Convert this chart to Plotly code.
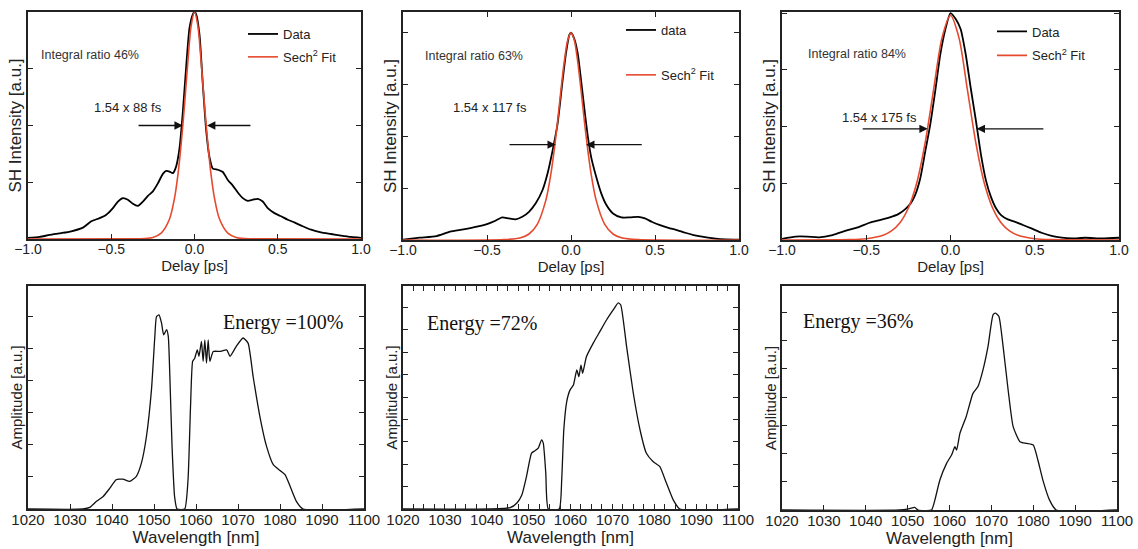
import plotly.graph_objects as go
from plotly.subplots import make_subplots

# ---------------- Autocorrelation traces (top row) ----------------
ac1_x = [-1.0, -0.93, -0.87, -0.8, -0.74, -0.67, -0.62, -0.57, -0.53, -0.49, -0.46, -0.43, -0.40, -0.37, -0.34,
         -0.31, -0.28, -0.25, -0.22, -0.19, -0.17, -0.15, -0.13, -0.11, -0.09, -0.07, -0.05, -0.03, -0.01, 0.0,
         0.01, 0.03, 0.05, 0.07, 0.09, 0.11, 0.14, 0.17, 0.2, 0.23, 0.26, 0.29, 0.32, 0.35, 0.38, 0.41, 0.44,
         0.48, 0.52, 0.56, 0.6, 0.65, 0.7, 0.76, 0.82, 0.88, 0.94, 1.0]
ac1_y = [0.005, 0.009, 0.018, 0.026, 0.034, 0.05, 0.078, 0.092, 0.107, 0.136, 0.165, 0.18, 0.173, 0.155, 0.146,
         0.165, 0.19, 0.21, 0.245, 0.287, 0.30, 0.297, 0.29, 0.32, 0.40, 0.56, 0.76, 0.93, 0.99, 1.0,
         0.99, 0.9, 0.68, 0.48, 0.36, 0.31, 0.305, 0.295, 0.26, 0.235, 0.205, 0.18, 0.168, 0.173, 0.177, 0.165, 0.136,
         0.114, 0.10, 0.085, 0.073, 0.056, 0.041, 0.029, 0.022, 0.015, 0.009, 0.005]
fit1_x = [-1.0, -0.4, -0.3, -0.25, -0.2, -0.15, -0.12, -0.1, -0.08, -0.06, -0.04, -0.02, 0.0,
          0.02, 0.04, 0.06, 0.08, 0.1, 0.12, 0.15, 0.2, 0.25, 0.3, 0.4, 1.0]
fit1_y = [0.0, 0.0005, 0.002, 0.007, 0.026, 0.088, 0.18, 0.28, 0.42, 0.59, 0.78, 0.94, 1.0,
          0.94, 0.78, 0.59, 0.42, 0.28, 0.18, 0.088, 0.026, 0.007, 0.002, 0.0005, 0.0]

ac2_x = [-1.0, -0.9, -0.8, -0.72, -0.64, -0.56, -0.5, -0.45, -0.41, -0.37, -0.33, -0.29, -0.25, -0.21, -0.17,
         -0.14, -0.11, -0.08, -0.05, -0.03, -0.01, 0.0, 0.02, 0.04, 0.06, 0.08, 0.1, 0.12, 0.15, 0.18, 0.21,
         0.25, 0.3, 0.35, 0.4, 0.44, 0.48, 0.53, 0.58, 0.63, 0.68, 0.73, 0.78, 0.85, 0.92, 1.0]
ac2_y = [0.002, 0.011, 0.019, 0.04, 0.051, 0.064, 0.077, 0.093, 0.109, 0.104, 0.10, 0.112, 0.136, 0.177, 0.24,
         0.32, 0.43, 0.56, 0.77, 0.90, 0.99, 1.0, 0.97, 0.90, 0.77, 0.63, 0.50, 0.40, 0.305, 0.225, 0.17,
         0.128, 0.109, 0.109, 0.112, 0.104, 0.088, 0.072, 0.059, 0.048, 0.035, 0.024, 0.016, 0.008, 0.003, 0.002]
fit2_x = [-1.0, -0.4, -0.3, -0.25, -0.2, -0.15, -0.12, -0.1, -0.08, -0.06, -0.04, -0.02, 0.0,
          0.02, 0.04, 0.06, 0.08, 0.1, 0.12, 0.15, 0.2, 0.25, 0.3, 0.4, 1.0]
fit2_y = [0.0, 0.0016, 0.011, 0.029, 0.077, 0.191, 0.318, 0.434, 0.571, 0.722, 0.861, 0.963, 1.0,
          0.963, 0.861, 0.722, 0.571, 0.434, 0.318, 0.191, 0.077, 0.029, 0.011, 0.0016, 0.0]

ac3_x = [-1.0, -0.92, -0.85, -0.78, -0.7, -0.62, -0.55, -0.48, -0.42, -0.36, -0.31, -0.27, -0.24, -0.21, -0.18,
         -0.15, -0.12, -0.09, -0.06, -0.03, 0.0, 0.03, 0.06, 0.09, 0.12, 0.15, 0.18, 0.21, 0.24, 0.27, 0.3,
         0.34, 0.38, 0.43, 0.48, 0.54, 0.6, 0.66, 0.72, 0.8, 0.9, 1.0]
ac3_y = [0.005, 0.015, 0.015, 0.012, 0.022, 0.041, 0.056, 0.076, 0.088, 0.10, 0.114, 0.135, 0.158, 0.198, 0.27,
         0.39, 0.51, 0.66, 0.82, 0.93, 1.0, 0.975, 0.93, 0.82, 0.67, 0.53, 0.38, 0.264, 0.19, 0.14, 0.11,
         0.091, 0.081, 0.066, 0.051, 0.032, 0.018, 0.01, 0.007, 0.01, 0.007, 0.01]
fit3_x = [-1.0, -0.6, -0.5, -0.4, -0.35, -0.3, -0.25, -0.2, -0.15, -0.1, -0.05, 0.0,
          0.05, 0.1, 0.15, 0.2, 0.25, 0.3, 0.35, 0.4, 0.5, 0.6, 1.0]
fit3_y = [0.0, 0.0016, 0.0058, 0.021, 0.040, 0.076, 0.141, 0.252, 0.430, 0.664, 0.892, 0.99,
          0.892, 0.664, 0.430, 0.252, 0.141, 0.076, 0.040, 0.021, 0.0058, 0.0016, 0.0]

ac_labels = ["Integral ratio 46%", "Integral ratio 63%", "Integral ratio 84%"]
fwhm_labels = ["1.54 x 88 fs", "1.54 x 117 fs", "1.54 x 175 fs"]
data_names = ["Data", "data", "Data"]

# ---------------- Spectra (bottom row) ----------------
sp1_x = [1020, 1033.1, 1034.7, 1036.3, 1037.9, 1039.5, 1041.0, 1042.6, 1044.2, 1045.8, 1047.0, 1048.2, 1049.4,
         1050.2, 1050.6, 1051.2, 1051.8, 1052.3, 1053.0, 1053.4, 1053.8, 1054.3, 1054.9, 1055.5, 1057.3,
         1058.1, 1058.7, 1059.2, 1059.7, 1060.3, 1060.7, 1061.3, 1061.7, 1062.1, 1062.5, 1062.9, 1063.3,
         1064.1, 1065.7, 1067.3, 1068.1, 1069.6, 1071.2, 1072.4, 1073.6, 1075.2, 1076.8, 1078.4, 1080.0,
         1081.2, 1082.4, 1083.9, 1085.5, 1100]
sp1_y = [0, 0, 0.05, 0.24, 0.39, 0.65, 0.91, 0.93, 0.86, 1.02, 1.43, 2.26, 3.72,
         5.38, 6.0, 6.05, 5.79, 5.43, 5.59, 5.38, 4.03, 1.95, 0.39, 0, 0,
         0.91, 3.2, 4.6, 4.7, 4.96, 4.76, 5.22, 4.6, 5.27, 4.55, 5.27, 4.6,
         4.91, 4.91, 4.96, 4.76, 5.07, 5.33, 5.17, 4.13, 2.89, 1.95, 1.38, 1.2,
         1.07, 0.71, 0.24, 0, 0]

sp2_x = [1020, 1040.8, 1045.6, 1047.2, 1048.4, 1049.5, 1050.7, 1051.5, 1052.3, 1053.1, 1053.5, 1054.1, 1054.7,
         1057.3, 1057.9, 1058.4, 1059.1, 1059.9, 1060.7, 1061.5, 1062.0, 1062.5, 1062.9, 1063.8, 1065.4,
         1067.0, 1068.6, 1070.2, 1071.4, 1072.0, 1073.4, 1075.0, 1076.6, 1078.1, 1079.7, 1081.3, 1082.9,
         1084.5, 1086.1, 1100]
sp2_y = [0, 0, 0.06, 0.27, 0.64, 1.46, 2.5, 2.6, 2.72, 3.09, 2.94, 1.6, 0,
         0, 1.31, 3.54, 4.8, 5.32, 5.54, 6.21, 5.91, 6.43, 6.06, 6.8, 7.4,
         7.92, 8.44, 8.89, 9.21, 9.11, 7.25, 5.17, 3.54, 2.5, 2.12, 1.9, 1.16,
         0.42, 0, 0]

sp3_x = [1020, 1048.1, 1050.5, 1051.7, 1052.5, 1055.7, 1056.5, 1057.7, 1059.3, 1060.5, 1061.3, 1061.7, 1062.5,
         1064.0, 1065.6, 1066.8, 1068.0, 1069.2, 1070.4, 1071.0, 1071.8, 1072.8, 1074.0, 1075.2, 1076.8,
         1078.4, 1080.0, 1081.1, 1082.3, 1083.9, 1085.5, 1100]
sp3_y = [0, 0, 0.05, 0.09, 0, 0, 0.35, 1.06, 1.65, 1.95, 2.24, 2.12, 2.72,
         3.31, 4.13, 4.37, 4.96, 5.79, 6.91, 6.97, 6.85, 5.79, 4.25, 2.95, 2.42,
         2.36, 2.3, 1.77, 1.06, 0.35, 0, 0]

energy_labels = ["Energy =100%", "Energy =72%", "Energy =36%"]

W, H = 1138, 549
FONT = "Liberation Sans, Arial, sans-serif"
RED = "#e64a2e"

fig = make_subplots(rows=2, cols=3)

# domains in pixels (left, right, top, bottom)
boxes = [(28, 361, 12, 239), (403, 739, 12, 240), (782, 1119, 12, 240),
         (28, 364, 286, 509), (403, 738, 286, 509), (782, 1117, 286, 510)]

ac_sets = [(ac1_x, ac1_y, fit1_x, fit1_y), (ac2_x, ac2_y, fit2_x, fit2_y), (ac3_x, ac3_y, fit3_x, fit3_y)]
legend_ids = ["legend", "legend2", "legend3"]
for i, (dx, dy, fx, fy) in enumerate(ac_sets):
    fig.add_trace(go.Scatter(x=dx, y=dy, mode="lines", name=data_names[i], legend=legend_ids[i],
                             legendgroup=f"d{i}", line=dict(color="black", width=1.8, shape="spline", smoothing=0.6)),
                  row=1, col=i + 1)
    fig.add_trace(go.Scatter(x=fx, y=fy, mode="lines", name="Sech<sup>2</sup> Fit", legend=legend_ids[i],
                             legendgroup=f"f{i}", line=dict(color=RED, width=1.6, shape="spline", smoothing=0.8)),
                  row=1, col=i + 1)

for i, (sx, sy) in enumerate([(sp1_x, sp1_y), (sp2_x, sp2_y), (sp3_x, sp3_y)]):
    fig.add_trace(go.Scatter(x=sx, y=sy, mode="lines", showlegend=False,
                             line=dict(color="#111", width=1.3, shape="spline", smoothing=0.5)),
                  row=2, col=i + 1)

# axes
top_yr = [[0, 1.0], [0, 1.1], [0, 1.005]]
bot_yr = [[0, 6.95], [0, 9.96], [0, 7.93]]
for k, (l, r, t, b) in enumerate(boxes):
    idx = "" if k == 0 else str(k + 1)
    xd = [l / W, r / W]
    yd = [1 - b / H, 1 - t / H]
    common = dict(showline=True, linecolor="#222", linewidth=1.5, mirror=True, ticks="inside",
                  ticklen=5, tickcolor="#222", tickwidth=1, showgrid=False, zeroline=False, automargin=False)
    if k < 3:
        fig.layout["xaxis" + idx].update(domain=xd, range=[-1, 1], dtick=0.5, tick0=0, tickformat=".1f",
                                         tickfont=dict(family=FONT, size=14, color="#222"), ticklabelstandoff=-4,
                                         title=dict(text="Delay [ps]", font=dict(family=FONT, size=15, color="#222"),
                                                    standoff=0),
                                         **common)
        if k == 1:
            fig.layout["xaxis" + idx].update(mirror="ticks")
        fig.layout["yaxis" + idx].update(domain=yd, range=top_yr[k], dtick=0.25, tick0=0, showticklabels=False,
                                         title=dict(text="SH Intensity [a.u.]",
                                                    font=dict(family=FONT, size=17, color="#222"), standoff=0),
                                         **common)
        fig.layout["yaxis" + idx].update(mirror="ticks")
    else:
        fig.layout["xaxis" + idx].update(domain=xd, range=[1020, 1100], dtick=10, tick0=1020,
                                         tickfont=dict(family=FONT, size=15, color="#222"), ticklabelstandoff=-4,
                                         title=dict(text="Wavelength [nm]",
                                                    font=dict(family=FONT, size=17, color="#222"), standoff=2),
                                         **common)
        if k == 4:
            fig.layout["xaxis" + idx].update(mirror="ticks",
                                             minor=dict(dtick=2.5, ticks="inside", ticklen=5, tickcolor="#222"))
        fig.layout["yaxis" + idx].update(domain=yd, range=bot_yr[k - 3], dtick=1, tick0=0, showticklabels=False,
                                         title=dict(text="Amplitude [a.u.]",
                                                    font=dict(family=FONT, size=15, color="#222"), standoff=0),
                                         **common)
        fig.layout["yaxis" + idx].update(mirror="ticks")

# annotations for top panels
txt_pos = [(-0.63, 0.81), (-0.58, 0.89), (-0.555, 0.82)]
fw_pos = [(-0.40, 0.58), (-0.48, 0.64), (-0.42, 0.54)]
arrows = [(0.5, -0.345, -0.07, 0.345, 0.075), (0.46, -0.375, -0.09, 0.43, 0.09),
          (0.49, -0.53, -0.135, 0.56, 0.155)]
annos = []
for i in range(3):
    xr = "x" if i == 0 else f"x{i + 1}"
    yr = "y" if i == 0 else f"y{i + 1}"
    annos.append(dict(x=txt_pos[i][0], y=txt_pos[i][1], xref=xr, yref=yr, text=ac_labels[i], showarrow=False,
                      font=dict(family=FONT, size=12.5, color="#333")))
    annos.append(dict(x=fw_pos[i][0], y=fw_pos[i][1], xref=xr, yref=yr, text=fwhm_labels[i], showarrow=False,
                      font=dict(family=FONT, size=13, color="#222")))
    ya, lx0, lx1, rx0, rx1 = arrows[i]
    for x0, x1 in [(lx0, lx1), (rx0, rx1)]:
        annos.append(dict(x=x1, y=ya, ax=x0, ay=ya, xref=xr, yref=yr, axref=xr, ayref=yr, text="",
                          showarrow=True, arrowhead=2, arrowsize=1.2, arrowwidth=1.4, arrowcolor="#111",
                          standoff=0, startstandoff=0))

energy_pos = [(1080.7, 5.82), (1038.9, 8.29), (1038.1, 6.67)]
for i in range(3):
    xr = f"x{i + 4}"
    yr = f"y{i + 4}"
    annos.append(dict(x=energy_pos[i][0], y=energy_pos[i][1], xref=xr, yref=yr, text=energy_labels[i],
                      showarrow=False, font=dict(family="Liberation Serif, Times New Roman, serif", size=20,
                                                 color="#111")))
fig.update_layout(annotations=annos)

leg_common = dict(bgcolor="rgba(0,0,0,0)", borderwidth=0, font=dict(family=FONT, size=13, color="#222"),
                  xanchor="left", yanchor="top", traceorder="grouped", itemwidth=30)
fig.update_layout(
    width=W, height=H, margin=dict(l=0, r=0, t=0, b=0, autoexpand=False),
    paper_bgcolor="white", plot_bgcolor="white",
    legend=dict(x=243 / W, y=1 - 19 / H, tracegroupgap=3, **leg_common),
    legend2=dict(x=621 / W, y=1 - 15 / H, tracegroupgap=25, **leg_common),
    legend3=dict(x=992 / W, y=1 - 16.5 / H, tracegroupgap=4, **leg_common),
)

fig.write_html("out.html", config={"displayModeBar": False},
               post_script="document.body.style.margin='0';document.body.style.padding='0';")
